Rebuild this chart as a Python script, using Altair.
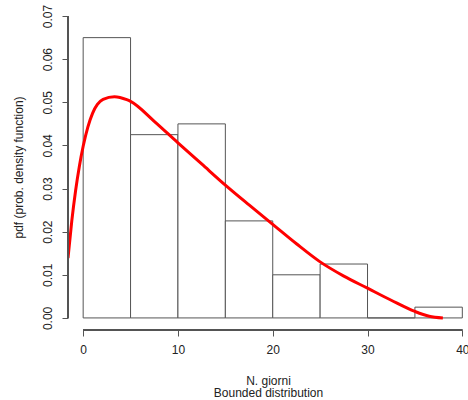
import altair as alt
import pandas as pd

# Histogram bins (N. giorni) and densities
bin_start = [0, 5, 10, 15, 20, 25, 30, 35]
bin_end = [5, 10, 15, 20, 25, 30, 35, 40]
density = [0.065, 0.0425, 0.045, 0.0225, 0.010, 0.0125, 0.0, 0.0025]

# Fitted (bounded) density curve
curve_x = [-1.6, -1.2, -0.8, -0.4, 0.0, 0.5, 1.0, 1.5, 2.1, 3.3, 4.6, 5.0,
           7.5, 10.0, 12.5, 15.0, 17.5, 20.0, 22.5, 25.0, 27.5, 30.0, 32.5,
           35.0, 36.5, 37.95]
curve_y = [0.0139, 0.0225, 0.0295, 0.0352, 0.0398, 0.0443, 0.0475, 0.0495,
           0.0507, 0.0513, 0.0506, 0.0502, 0.0456, 0.0406, 0.0357, 0.0308,
           0.0262, 0.0217, 0.0172, 0.0130, 0.0097, 0.0069, 0.0041, 0.0015,
           0.0004, 0.0]

x_ticks = [0, 10, 20, 30, 40]
y_ticks = [0.0, 0.01, 0.02, 0.03, 0.04, 0.05, 0.06, 0.07]

X_DOM = [-1.6, 40.6]
Y_DOM = [-0.0028, 0.0728]

hist_df = pd.DataFrame({"start": bin_start, "end": bin_end, "density": density})
curve_df = pd.DataFrame({"x": curve_x, "y": curve_y})

FONT = "Liberation Sans"
LINE = "#555555"
TEXT = "#222222"

xs = alt.Scale(domain=X_DOM, nice=False, zero=False)
ys = alt.Scale(domain=Y_DOM, nice=False, zero=False)

x_axis = alt.Axis(values=x_ticks, domain=False, grid=False, tickSize=6,
                  tickColor=LINE, labelPadding=8, labelFontSize=12,
                  labelColor=TEXT, labelFont=FONT, title=["N. giorni", "Bounded distribution"],
                  titleFont=FONT, titleFontSize=12, titleFontWeight="normal",
                  titleColor=TEXT, titlePadding=20, titleLineHeight=12.5)
y_axis = alt.Axis(values=y_ticks, format=".2f", domain=False, grid=False, tickSize=6,
                  tickColor=LINE, labelPadding=8, labelAngle=270, labelAlign="center",
                  labelBaseline="bottom", labelFontSize=12, labelColor=TEXT, labelFont=FONT,
                  title="pdf (prob. density function)", titleFont=FONT, titleFontSize=12,
                  titleFontWeight="normal", titleColor=TEXT, titlePadding=16)

bars = alt.Chart(hist_df).mark_rect(fill="white", stroke=LINE, strokeWidth=1).encode(
    x=alt.X("start:Q", scale=xs, axis=x_axis),
    x2="end:Q",
    y=alt.Y("density:Q", scale=ys, axis=y_axis),
    y2=alt.datum(0),
)

curve = alt.Chart(curve_df).mark_line(color="#ff0000", strokeWidth=3, clip=True,
                                      interpolate="monotone").encode(
    x="x:Q",
    y="y:Q",
)

x_line = alt.Chart(hist_df).mark_rule(color=LINE, strokeWidth=1).encode(
    x=alt.datum(x_ticks[0]), x2=alt.datum(x_ticks[-1]), y=alt.datum(Y_DOM[0])
)
y_line = alt.Chart(hist_df).mark_rule(color=LINE, strokeWidth=1).encode(
    x=alt.datum(X_DOM[0]), y=alt.datum(y_ticks[0]), y2=alt.datum(y_ticks[-1])
)

chart = alt.layer(bars, curve, x_line, y_line).properties(
    width=400,
    height=326,
    padding={"left": 68, "top": 4, "right": 0, "bottom": 70},
    autosize=alt.AutoSizeParams(type="none"),
    background="white",
).configure_view(stroke=None)

chart.save("out.html", embed_options={"renderer": "svg", "actions": False})
